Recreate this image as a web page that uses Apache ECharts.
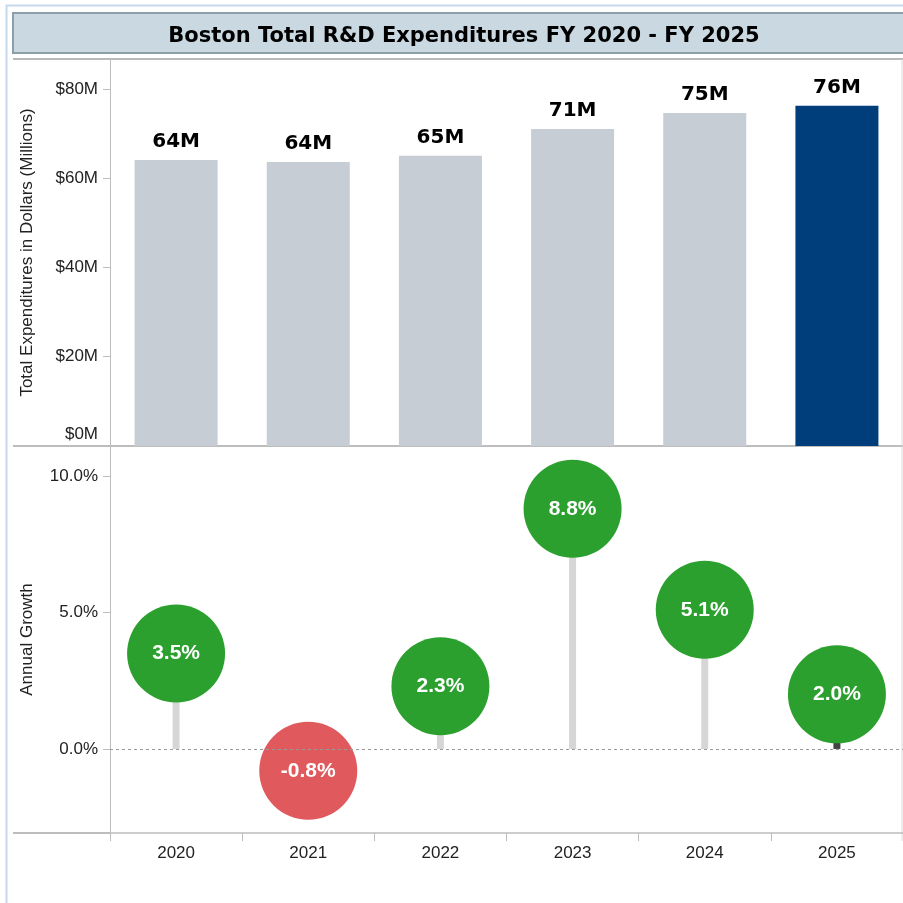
<!DOCTYPE html>
<html lang="en">
<head>
    <meta charset="utf-8">
    <title>Boston Total R&amp;D Expenditures</title>
    <script src="https://cdn.jsdelivr.net/npm/echarts@6/dist/echarts.min.js"></script>
    <style>
        html, body { margin: 0; padding: 0; background: #fff; }
        #container { width: 903px; height: 903px; }
    </style>
</head>
<body>
<div id="container"></div>
<script>
    // data
    var years = ['2020', '2021', '2022', '2023', '2024', '2025'];
    var spending = [64.1, 63.6, 65.0, 71.0, 74.6, 76.2];   // millions of dollars
    var growth = [3.5, -0.8, 2.3, 8.8, 5.1, 2.0];          // percent
    var spendTicks = [0, 20, 40, 60, 80];
    var growthTicks = [0, 5, 10];

    var font = 'Liberation Sans, Arial, sans-serif';
    var heavy = 'DejaVu Sans, Liberation Sans, sans-serif';
    var last = years.length - 1;

    var dom = document.getElementById('container');
    var myChart = echarts.init(dom, null, { renderer: 'canvas' });

    var option = {
        animation: false,
        backgroundColor: '#fff',
        title: {
            text: 'Boston Total R&D Expenditures FY 2020 - FY 2025',
            left: 459,
            top: 21,
            textAlign: 'center',
            textStyle: { fontFamily: heavy, fontWeight: 'bold', fontSize: 21, color: '#000' }
        },
        graphic: [
            // outer frame, title box and separator lines
            { type: 'rect', z: 0, shape: { x: 6.5, y: 5.5, width: 1000, height: 1000 }, style: { fill: null, stroke: '#c6d9ec', lineWidth: 2 } },
            { type: 'rect', z: 0, shape: { x: 13, y: 13, width: 895, height: 40 }, style: { fill: '#cad8e2', stroke: '#8c9fa9', lineWidth: 2 } },
            { type: 'line', z: 0, shape: { x1: 13, y1: 59, x2: 903, y2: 59 }, style: { stroke: '#b9b9b9', lineWidth: 2 } },
            { type: 'line', z: 0, shape: { x1: 13, y1: 446, x2: 903, y2: 446 }, style: { stroke: '#bdbdbd', lineWidth: 2 } },
            { type: 'line', z: 0, shape: { x1: 13, y1: 833, x2: 110, y2: 833 }, style: { stroke: '#bdbdbd', lineWidth: 2 } },
            { type: 'line', z: 0, shape: { x1: 902, y1: 59, x2: 902, y2: 841 }, style: { stroke: '#d8d8d8', lineWidth: 1 } }
        ],
        grid: [
            { left: 110, top: 59, width: 793, height: 387, outerBoundsMode: 'none' },
            { left: 110, top: 446, width: 793, height: 387, outerBoundsMode: 'none' }
        ],
        xAxis: [
            {
                type: 'category', gridIndex: 0, data: years,
                axisLine: { show: false }, axisTick: { show: false }, axisLabel: { show: false }
            },
            {
                type: 'category', gridIndex: 1, data: years,
                axisLine: { show: true, onZero: false, lineStyle: { color: '#bdbdbd', width: 1.5 } },
                axisTick: { show: true, length: 8, lineStyle: { color: '#bdbdbd' } },
                axisLabel: { fontFamily: font, fontSize: 17, color: '#222', margin: 12 }
            }
        ],
        yAxis: [
            {
                type: 'value', gridIndex: 0, min: 0, max: 86.7,
                name: 'Total Expenditures in Dollars (Millions)',
                nameLocation: 'middle', nameGap: 74,
                nameTextStyle: { fontFamily: font, fontSize: 17, color: '#222' },
                axisLine: { show: true, lineStyle: { color: '#bdbdbd' } },
                axisTick: { show: true, length: 7, customValues: [20, 40, 60, 80], lineStyle: { color: '#bdbdbd' } },
                axisLabel: {
                    customValues: spendTicks, margin: 12,
                    fontFamily: font, fontSize: 17, color: '#222',
                    formatter: function (v) { return v === 0 ? '{z|$0M}' : '$' + v + 'M'; },
                    rich: { z: { fontFamily: font, fontSize: 17, color: '#222', padding: [0, 0, 24, 0] } }
                },
                splitLine: { show: false }
            },
            {
                type: 'value', gridIndex: 1, min: -3.08, max: 11.1,
                name: 'Annual Growth',
                nameLocation: 'middle', nameGap: 74,
                nameTextStyle: { fontFamily: font, fontSize: 17, color: '#222' },
                axisLine: { show: true, lineStyle: { color: '#bdbdbd' } },
                axisTick: { show: true, length: 7, customValues: growthTicks, lineStyle: { color: '#bdbdbd' } },
                axisLabel: {
                    customValues: growthTicks, margin: 12,
                    fontFamily: font, fontSize: 17, color: '#222',
                    formatter: function (v) { return v.toFixed(1) + '%'; }
                },
                splitLine: { show: false }
            }
        ],
        series: [
            {
                name: 'Total Expenditures',
                type: 'bar',
                xAxisIndex: 0, yAxisIndex: 0,
                barWidth: 83,
                data: spending,
                itemStyle: {
                    color: function (p) { return p.dataIndex === last ? '#003d7b' : '#c6cdd4'; }
                },
                label: {
                    show: true, position: 'top', distance: 8,
                    fontFamily: heavy, fontWeight: 'bold', fontSize: 20, color: '#000',
                    formatter: function (p) { return Math.round(p.value) + 'M'; }
                }
            },
            {
                name: 'stem',
                type: 'bar',
                xAxisIndex: 1, yAxisIndex: 1,
                barWidth: 7,
                z: 1,
                data: growth,
                itemStyle: {
                    color: function (p) { return p.dataIndex === last ? '#444' : '#d6d6d6'; }
                },
                markLine: {
                    silent: true, symbol: 'none',
                    label: { show: false },
                    lineStyle: { color: '#9a9a9a', type: [3, 3], width: 1 },
                    data: [{ yAxis: 0 }]
                }
            },
            {
                name: 'Annual Growth',
                type: 'scatter',
                xAxisIndex: 1, yAxisIndex: 1,
                symbolSize: 98,
                z: 3,
                data: growth,
                itemStyle: {
                    opacity: 1,
                    color: function (p) { return p.value < 0 ? '#e0595c' : '#2ca02f'; }
                },
                label: {
                    show: true, position: 'inside',
                    fontFamily: font, fontWeight: 'bold', fontSize: 21, color: '#fff',
                    formatter: function (p) { return p.value.toFixed(1) + '%'; }
                }
            }
        ]
    };

    myChart.setOption(option, true);
</script>
</body>
</html>
